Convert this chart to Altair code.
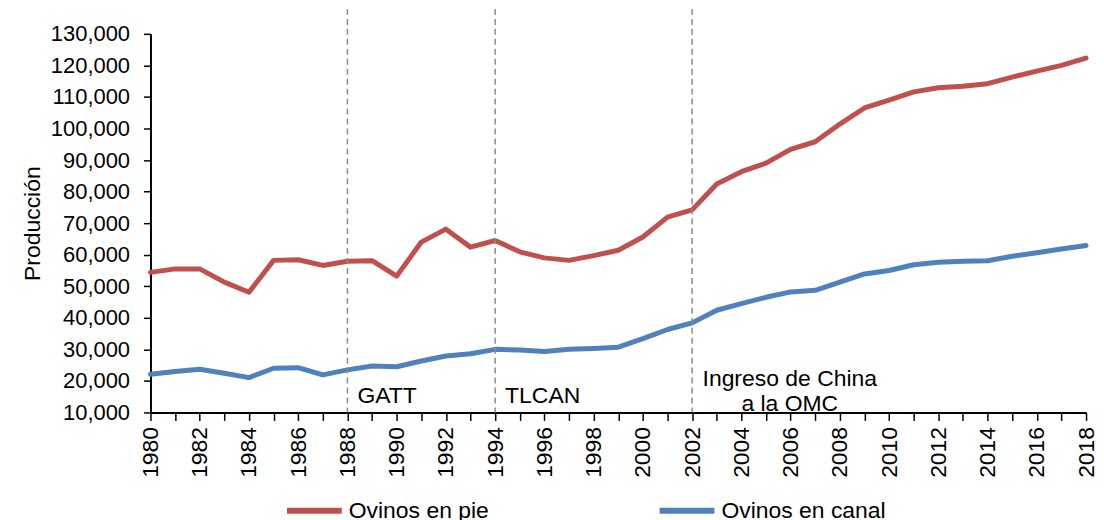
import altair as alt
import pandas as pd

years = list(range(1980, 2019))
ovinos_pie = [54400, 55500, 55500, 51300, 48100, 58200, 58400, 56600, 57900, 58100,
              53200, 64000, 68100, 62400, 64500, 60900, 59000, 58200, 59700, 61400,
              65600, 71900, 74200, 82400, 86300, 89000, 93400, 95800, 101400, 106500,
              109000, 111600, 112900, 113400, 114200, 116300, 118200, 120000, 122300]
ovinos_canal = [22100, 22950, 23700, 22400, 21050, 24000, 24200, 21900, 23500, 24700,
                24500, 26300, 27900, 28600, 30000, 29800, 29300, 30000, 30300, 30700,
                33400, 36300, 38400, 42400, 44500, 46500, 48200, 48700, 51300, 53900,
                55000, 56800, 57600, 57900, 58100, 59500, 60600, 61800, 62900]
series_names = ["Ovinos en pie", "Ovinos en canal"]
series_colors = ["#C0504D", "#4F81BD"]
y_ticks = list(range(10000, 130001, 10000))

event_years = [1988, 1994]
event_labels = ["GATT", "TLCAN"]
event_label_y = [15150, 15150]
china_year = [2002]
china_label = [["Ingreso de China", "a la OMC"]]
china_label_y = [20570]

FONT = "Liberation Sans"

df = pd.DataFrame({
    "Año": years * 2,
    "Producción": ovinos_pie + ovinos_canal,
    "Serie": [series_names[0]] * len(years) + [series_names[1]] * len(years),
})
ev = pd.DataFrame({"Año": event_years + china_year})
ev_txt = pd.DataFrame({"Año": event_years, "label": event_labels, "y": event_label_y})
china_txt = pd.DataFrame({"Año": china_year, "label": china_label, "y": china_label_y})

x_scale = alt.Scale(domain=[1980, 2018], nice=False, zero=False)
y_scale = alt.Scale(domain=[10000, 130000], nice=False, zero=False)

x_axis = alt.Axis(values=years, format="d", labelAngle=270, title=None,
                  labelExpr="datum.value % 2 == 0 ? datum.label : ''",
                  tickSize=8, labelPadding=6, labelFontSize=23)
y_axis = alt.Axis(values=y_ticks, format=",d", title="Producción", tickSize=7,
                  labelPadding=14, labelFontSize=22, titleFontSize=23, titlePadding=6)

lines = alt.Chart(df).mark_line(strokeWidth=5, strokeCap="round", strokeJoin="round").encode(
    x=alt.X("Año:Q", scale=x_scale, axis=x_axis),
    y=alt.Y("Producción:Q", scale=y_scale, axis=y_axis),
    color=alt.Color("Serie:N", scale=alt.Scale(domain=series_names, range=series_colors),
                    sort=series_names,
                    legend=alt.Legend(title=None, orient="none", direction="horizontal",
                                      legendX=134, legendY=448, symbolType="stroke",
                                      symbolSize=3025, symbolStrokeWidth=6,
                                      labelFontSize=23, labelOffset=4, labelLimit=400,
                                      columnPadding=159, padding=0)),
)

rules = alt.Chart(ev).mark_rule(color="#8C8C8C", strokeWidth=1.5, strokeDash=[6, 4]).encode(
    x=alt.X("Año:Q", scale=x_scale, axis=x_axis),
    y=alt.value(-25),
    y2=alt.value(380),
)

texts = alt.Chart(ev_txt).mark_text(align="left", baseline="middle", dx=10,
                                    fontSize=23, font=FONT, color="black").encode(
    x=alt.X("Año:Q", scale=x_scale, axis=x_axis),
    y=alt.Y("y:Q", scale=y_scale, axis=y_axis),
    text="label:N",
)

china = alt.Chart(china_txt).mark_text(align="center", baseline="middle", dx=98,
                                       fontSize=23, font=FONT, color="black",
                                       lineHeight=25).encode(
    x=alt.X("Año:Q", scale=x_scale, axis=x_axis),
    y=alt.Y("y:Q", scale=y_scale, axis=y_axis),
    text="label",
)

chart = alt.layer(lines, rules, texts, china).properties(
    width=939, height=380,
    autosize=alt.AutoSizeParams(type="none"),
    padding={"left": 143, "top": 25, "right": 10, "bottom": 107},
).configure_view(stroke=None).configure_axis(
    grid=False, domainColor="black", domainWidth=2, tickColor="black", tickWidth=1.5,
    labelColor="black", titleColor="black", labelFont=FONT, titleFont=FONT,
    titleFontWeight="normal",
).configure_legend(labelFont=FONT, labelColor="black")

chart.save("out.html", embed_options={"renderer": "svg", "actions": False})
